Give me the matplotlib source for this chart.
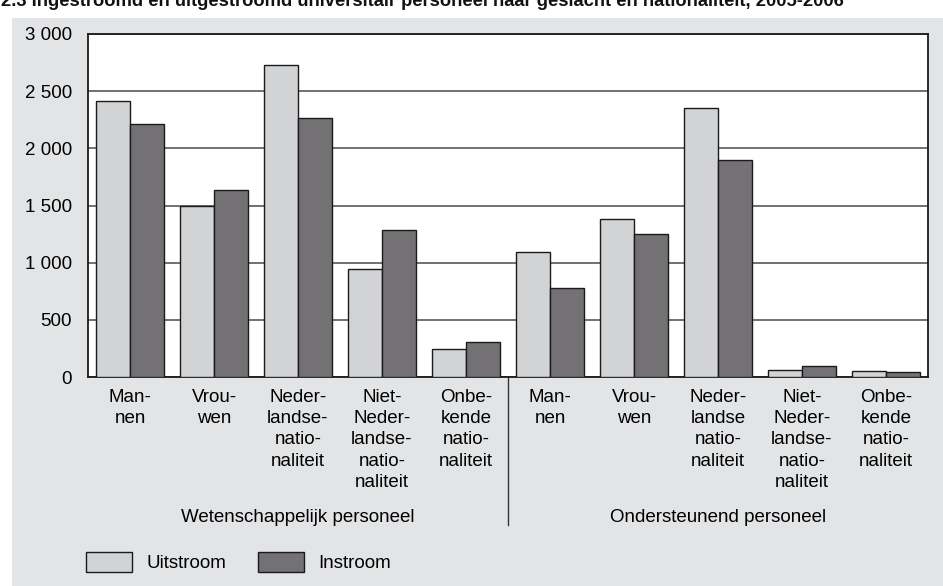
import matplotlib.pyplot as plt
import matplotlib.transforms as mtransforms
import numpy as np
from matplotlib.patches import Rectangle

plt.rcParams["font.family"] = ["Liberation Sans", "DejaVu Sans"]

title = ("2.3 Ingestroomd en uitgestroomd universitair personeel naar "
         "geslacht en nationaliteit, 2005-2006")
categories = [
    "Man-\nnen",
    "Vrou-\nwen",
    "Neder-\nlandse-\nnatio-\nnaliteit",
    "Niet-\nNeder-\nlandse-\nnatio-\nnaliteit",
    "Onbe-\nkende\nnatio-\nnaliteit",
    "Man-\nnen",
    "Vrou-\nwen",
    "Neder-\nlandse\nnatio-\nnaliteit",
    "Niet-\nNeder-\nlandse-\nnatio-\nnaliteit",
    "Onbe-\nkende\nnatio-\nnaliteit",
]
groups = ["Wetenschappelijk personeel", "Ondersteunend personeel"]
uitstroom = [2410, 1500, 2725, 945, 245, 1090, 1380, 2355, 60, 50]
instroom = [2210, 1635, 2265, 1285, 305, 780, 1250, 1895, 100, 40]
yticks = [0, 500, 1000, 1500, 2000, 2500, 3000]
ytick_labels = ["0", "500", "1 000", "1 500", "2 000", "2 500", "3 000"]

W, H = 943, 586
fs = 13.5
fig = plt.figure(figsize=(W / 100, H / 100), dpi=100)
fig.patch.set_facecolor("white")
fig.patches.append(Rectangle((12 / W, 0), 1 - 12 / W, 1 - 18 / H,
                             transform=fig.transFigure,
                             facecolor="#e3e4e6", edgecolor="none", zorder=-5))
fig.text(1 / W, 1 - 6 / H, title, fontsize=13.2, fontweight="bold",
         va="baseline", ha="left", color="#111111")

ax = fig.add_axes([88 / W, (H - 377) / H, (928 - 88) / W, (377 - 34) / H])
ax.set_zorder(2)
ax.set_facecolor("white")

x = np.arange(len(categories))
width = 0.4
bars_u = ax.bar(x - width / 2, uitstroom, width, color="#d2d3d5",
                edgecolor="#1a1a1a", linewidth=1.0, label="Uitstroom", zorder=3)
bars_i = ax.bar(x + width / 2, instroom, width, color="#737174",
                edgecolor="#1a1a1a", linewidth=1.0, label="Instroom", zorder=3)

ax.set_xlim(-0.5, len(categories) - 0.5)
ax.set_ylim(0, 3000)
ax.set_yticks(yticks, ytick_labels, fontsize=fs)
ax.set_xticks(x, categories, fontsize=fs, linespacing=1.33)
ax.tick_params(axis="x", length=0, pad=8.5)
ax.tick_params(axis="y", length=0, pad=11.5)
ax.grid(axis="y", color="#4a4a4a", linewidth=1.1, zorder=1)
ax.set_axisbelow(True)
for side in ax.spines.values():
    side.set_linewidth(1.3)
    side.set_color("#1a1a1a")

trans = mtransforms.blended_transform_factory(ax.transData, ax.transAxes)
ax.plot([4.5, 4.5], [0, -0.431], transform=trans, color="#333333",
        linewidth=1.0, clip_on=False)
ax.text(2, -0.411, groups[0], transform=trans, ha="center", va="center",
        fontsize=fs)
ax.text(7, -0.411, groups[1], transform=trans, ha="center", va="center",
        fontsize=fs)

fig.legend(handles=[bars_u, bars_i], loc="lower left",
           bbox_to_anchor=(86 / W, (H - 572) / H), ncol=2, frameon=False,
           fontsize=fs, handlelength=2.45, handleheight=1.25,
           handletextpad=0.75, columnspacing=1.7, borderpad=0,
           borderaxespad=0)

fig.savefig("out.png", dpi=100)
